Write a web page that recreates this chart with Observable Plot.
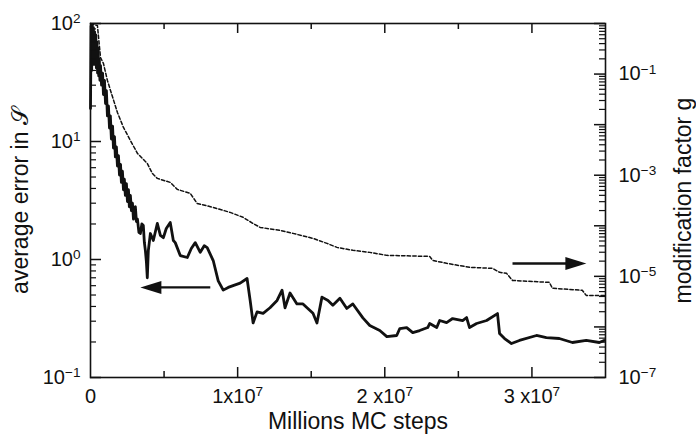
<!DOCTYPE html>
<html>
<head>
<meta charset="utf-8">
<script src="https://cdn.jsdelivr.net/npm/d3@7"></script>
<script src="https://cdn.jsdelivr.net/npm/@observablehq/plot@0.6"></script>
<style>
  html, body { margin: 0; padding: 0; background: #fff; }
  #chart { width: 696px; height: 448px; }
</style>
</head>
<body>
<div id="chart"></div>
<script>
// ---- Data (x in units of 1e7 MC steps) ----
const errX = [0.000,0.004,0.008,0.012,0.016,0.020,0.024,0.028,0.032,0.036,0.040,0.044,0.048,0.052,0.056,0.060,0.064,0.068,0.075,0.082,0.088,0.095,0.102,0.108,0.115,0.122,0.129,0.135,0.142,0.150,0.156,0.163,0.169,0.176,0.183,0.190,0.197,0.204,0.210,0.217,0.224,0.230,0.237,0.244,0.251,0.258,0.264,0.271,0.278,0.285,0.292,0.298,0.305,0.312,0.319,0.329,0.339,0.349,0.359,0.366,0.373,0.380,0.386,0.393,0.407,0.427,0.454,0.475,0.495,0.515,0.542,0.563,0.576,0.610,0.658,0.685,0.712,0.746,0.773,0.793,0.834,0.868,0.902,0.936,0.969,1.017,1.064,1.085,1.105,1.132,1.173,1.220,1.268,1.302,1.322,1.356,1.403,1.444,1.512,1.539,1.573,1.614,1.647,1.695,1.742,1.783,1.851,1.898,1.966,2.014,2.081,2.102,2.149,2.190,2.237,2.292,2.305,2.353,2.373,2.420,2.461,2.529,2.556,2.576,2.624,2.692,2.766,2.780,2.814,2.861,2.915,3.031,3.098,3.186,3.275,3.369,3.458,3.490];
const errY = [19,95,40,98,55,92,45,85,50,80,42,70,38,62,36,50,33,44,30,38,25,33,21,27,16.5,20,13,16.5,10.5,13.5,8.8,11,7.4,9,6.2,7.6,5.2,6.4,4.5,5.6,3.9,4.8,3.5,4.4,3.1,3.9,2.8,3.5,2.6,3.0,2.2,2.7,2.8,2.1,2.2,1.7,1.66,2.0,1.94,1.4,1.19,0.95,0.70,1.19,1.66,1.45,2.02,1.6,1.53,1.83,2.06,1.45,1.39,1.08,1.04,1.24,1.39,1.15,1.31,1.26,0.98,0.66,0.55,0.58,0.60,0.63,0.69,0.45,0.29,0.36,0.35,0.39,0.45,0.55,0.39,0.52,0.42,0.42,0.35,0.29,0.48,0.45,0.41,0.47,0.385,0.42,0.32,0.276,0.25,0.222,0.227,0.26,0.265,0.24,0.25,0.265,0.287,0.265,0.304,0.292,0.316,0.304,0.322,0.265,0.287,0.304,0.348,0.236,0.214,0.194,0.206,0.227,0.218,0.214,0.198,0.206,0.198,0.206];

const gX = [0.000,0.047,0.068,0.088,0.115,0.136,0.183,0.224,0.271,0.319,0.386,0.420,0.454,0.542,0.590,0.678,0.725,0.834,0.949,1.037,1.105,1.153,1.288,1.376,1.512,1.607,1.675,1.783,1.898,2.014,2.305,2.325,2.420,2.576,2.732,2.780,2.827,2.868,3.119,3.139,3.342,3.369,3.500];
const gY = [1,0.91,0.213,0.162,0.0747,0.0474,0.0174,0.0088,0.00487,0.0027,0.00171,0.00109,0.000865,0.000721,0.000525,0.000437,0.000277,0.000231,0.000184,0.000147,0.000111,9.29e-5,8.11e-5,7.08e-5,5.64e-5,4.49e-5,3.74e-5,3.27e-5,2.98e-5,2.60e-5,2.48e-5,2.07e-5,1.81e-5,1.51e-5,1.44e-5,1.20e-5,1.15e-5,8.3e-6,7.6e-6,5.8e-6,5.3e-6,4.2e-6,4.2e-6];

const xTickValues = [0, 1, 2, 3];
const xTickLabels = ["0", "1x10^7", "2 x10^7", "3 x10^7"];
const xMinorTicks = [0.5, 1.5, 2.5];
const yTickValues = [0.1, 1, 10, 100];
const yTickLabels = ["10^−1", "10^0", "10^1", "10^2"];
const gTickValues = [1e-1, 1e-3, 1e-5, 1e-7];
const gTickLabels = ["10^−1", "10^−3", "10^−5", "10^−7"];
const gDecades = [1e-7,1e-6,1e-5,1e-4,1e-3,1e-2,1e-1,1];

// annotation arrows: from x1 to x2 at height y (left scale)
const arrowLeft = {x1: 0.814, x2: 0.339, y: 0.58};
const arrowRight = {x1: 2.868, x2: 3.37, y: 0.925};

// ---- helpers ----
// map g (right axis, 1e-7..1) onto the left scale (0.1..100)
const toLeft = g => Math.pow(10, -1 + (Math.log10(g) + 7) * 3 / 7);
const minorLog = (lo, hi) => {
  const out = [];
  for (let e = lo; e < hi; e++) for (let k = 2; k <= 9; k++) out.push(k * Math.pow(10, e));
  return out;
};

const errData = errX.map((x, i) => ({x, y: errY[i]}));
const gData = gX.map((x, i) => ({x, y: toLeft(gY[i])}));

const W = 696, H = 448;
const M = {top: 23, right: 91, bottom: 71, left: 90};
const PW = W - M.left - M.right, PH = H - M.top - M.bottom;
const font = "'Liberation Sans', Arial, Helvetica, sans-serif";

const arrowHead = {
  draw(ctx, size) {
    ctx.moveTo(0, 0);
    ctx.lineTo(-21, -6.5);
    ctx.lineTo(-21, 6.5);
    ctx.closePath();
  }
};

const plot = Plot.plot({
  width: W, height: H,
  marginTop: M.top, marginRight: M.right, marginBottom: M.bottom, marginLeft: M.left,
  style: {fontFamily: font, background: "#fff", color: "#111"},
  x: {domain: [0, 3.5], axis: null},
  y: {type: "log", domain: [0.1, 100], axis: null},
  marks: [
    // data lines
    Plot.line(gData, {x: "x", y: "y", stroke: "#111", strokeWidth: 1.5, strokeDasharray: "3.4,2.2"}),
    Plot.line(errData, {x: "x", y: "y", stroke: "#111", strokeWidth: 2.8, strokeLinejoin: "round"}),
    // arrows
    Plot.link([arrowLeft, arrowRight], {x1: "x1", x2: d => d.x2 + (d.x2 > d.x1 ? -0.1 : 0.1), y1: "y", y2: "y", stroke: "#111", strokeWidth: 2.4}),
    Plot.dot([arrowLeft, arrowRight], {x: "x2", y: "y", symbol: arrowHead, fill: "#111", stroke: "none", rotate: d => d.x2 > d.x1 ? 0 : 180}),
    // frame
    Plot.frame({stroke: "#111", strokeWidth: 1.6}),
    // x ticks bottom & top (inward)
    Plot.ruleX(xTickValues.slice(1), {x: d => d, insetTop: PH - 10, stroke: "#111", strokeWidth: 1.5}),
    Plot.ruleX(xMinorTicks, {x: d => d, insetTop: PH - 6, stroke: "#111", strokeWidth: 1.5}),
    Plot.ruleX(xTickValues.slice(1), {x: d => d, insetBottom: PH - 10, stroke: "#111", strokeWidth: 1.5}),
    Plot.ruleX(xMinorTicks, {x: d => d, insetBottom: PH - 6, stroke: "#111", strokeWidth: 1.5}),
    // left y ticks (inward)
    Plot.ruleY(yTickValues, {y: d => d, insetRight: PW - 11, stroke: "#111", strokeWidth: 1.5}),
    Plot.ruleY(minorLog(-1, 2), {y: d => d, insetRight: PW - 6, stroke: "#111", strokeWidth: 1.2}),
    // right y ticks (inward), g scale
    Plot.ruleY(gDecades, {y: d => toLeft(d), insetLeft: PW - 11, stroke: "#111", strokeWidth: 1.5}),
    Plot.ruleY(minorLog(-7, 0), {y: d => toLeft(d), insetLeft: PW - 6, stroke: "#111", strokeWidth: 1.2}),
    // tick labels
    Plot.text(xTickValues, {x: d => d, text: (d, i) => xTickLabels[i], frameAnchor: "bottom", dy: 25, fontSize: 20, fill: "#111"}),
    Plot.text(yTickValues, {y: d => d, text: (d, i) => yTickLabels[i], frameAnchor: "left", dx: -10, textAnchor: "end", fontSize: 20, fill: "#111"}),
    Plot.text(gTickValues, {y: d => toLeft(d), text: (d, i) => gTickLabels[i], frameAnchor: "right", dx: 13, textAnchor: "start", fontSize: 20, fill: "#111"}),
    // axis titles
    Plot.text(["Millions MC steps"], {text: d => d, frameAnchor: "bottom", dy: 51, dx: 10, textAnchor: "middle", fontSize: 23, fill: "#111"}),
    Plot.text(["average error in 𝒮"], {text: d => d, frameAnchor: "left", dx: -70, rotate: -90, textAnchor: "middle", fontSize: 23, fill: "#111"}),
    Plot.text(["modification factor g"], {text: d => d, frameAnchor: "right", dx: 78, rotate: -90, textAnchor: "middle", fontSize: 23, fill: "#111"})
  ]
});

// superscript post-processing: "a^b" -> a<tspan sup>b</tspan>
const NS = "http://www.w3.org/2000/svg";
plot.querySelectorAll("text").forEach(t => {
  const s = t.textContent;
  const m = s.match(/^(.*)\^(.+)$/);
  if (!m) return;
  t.textContent = "";
  const a = document.createElementNS(NS, "tspan");
  a.textContent = m[1];
  const b = document.createElementNS(NS, "tspan");
  b.setAttribute("dy", "-0.5em");
  b.setAttribute("font-size", "0.68em");
  b.textContent = m[2];
  t.append(a, b);
});

document.getElementById("chart").appendChild(plot);
</script>
</body>
</html>
